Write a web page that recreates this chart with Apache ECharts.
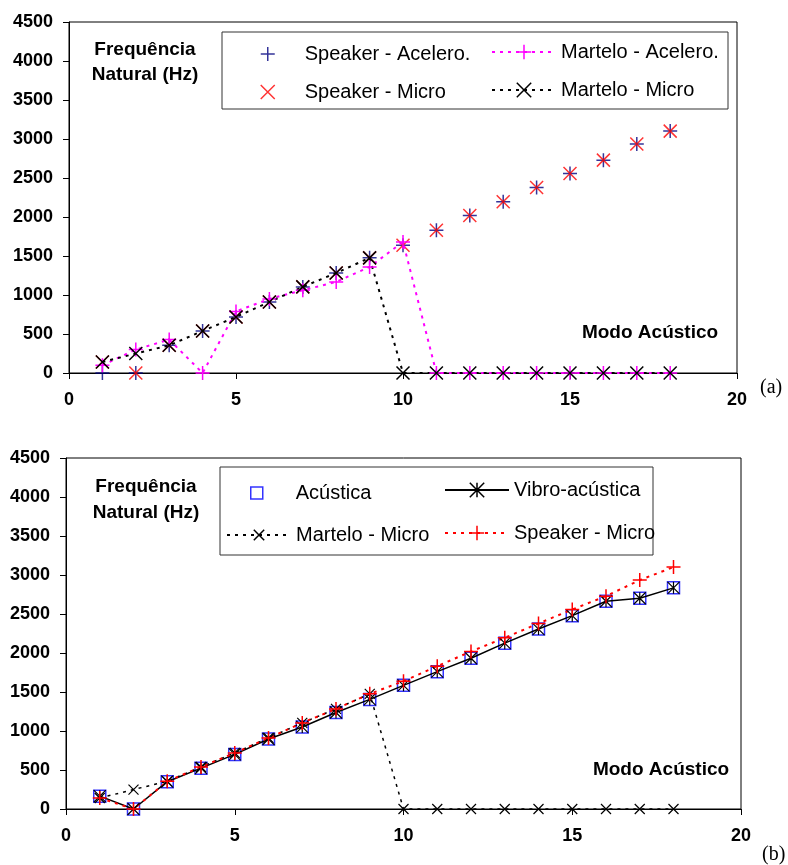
<!DOCTYPE html>
<html>
<head>
<meta charset="utf-8">
<script src="https://cdn.jsdelivr.net/npm/echarts@6/dist/echarts.min.js"></script>
<style>
html, body { margin: 0; padding: 0; background: #fff; }
#main { width: 788px; height: 865px; }
</style>
</head>
<body>
<div id="main"></div>
<script>
var modes = [1, 2, 3, 4, 5, 6, 7, 8, 9, 10, 11, 12, 13, 14, 15, 16, 17, 18];
var xTicks = [0, 5, 10, 15, 20];
var yTicks = [0, 500, 1000, 1500, 2000, 2500, 3000, 3500, 4000, 4500];

// grafico (a)
var speakerAcelA = [0, 0, 355, 539, 719, 911, 1104, 1283, 1476, 1639, 1831, 2020, 2195, 2379, 2558, 2729, 2935, 3101];
var speakerMicroA = [141, 0, 355, 539, 719, 911, 1104, 1283, 1476, 1639, 1831, 2020, 2195, 2379, 2558, 2729, 2935, 3101];
var marteloAcelA = [100, 300, 428, 0, 790, 950, 1061, 1168, 1360, 1681, 0, 0, 0, 0, 0, 0, 0, 0];
var marteloMicroA = [141, 249, 355, 539, 719, 911, 1104, 1283, 1476, 0, 0, 0, 0, 0, 0, 0, 0, 0];

// grafico (b)
var acustica = [165, 0, 350, 524, 700, 898, 1052, 1237, 1405, 1585, 1761, 1933, 2126, 2307, 2479, 2663, 2702, 2835];
var vibroAcustica = [165, 0, 350, 524, 700, 898, 1052, 1237, 1405, 1585, 1761, 1933, 2126, 2307, 2479, 2663, 2702, 2835];
var marteloMicroB = [141, 249, 355, 539, 719, 911, 1104, 1283, 1476, 0, 0, 0, 0, 0, 0, 0, 0, 0];
var speakerMicroB = [141, 0, 355, 539, 719, 911, 1104, 1283, 1476, 1639, 1831, 2020, 2195, 2379, 2558, 2729, 2935, 3101];

var PLUS = 'path://M0,5L10,5M5,0L5,10';
var CROSS = 'path://M0,0L10,10M10,0L0,10';
var STAR = 'path://M5,0L5,10M0,0L10,10M10,0L0,10';
var SQUARE = 'path://M0,0L10,0L10,10L0,10Z';

function pts(vals) {
    return modes.map(function (m, i) { return [m, vals[i]]; });
}

var FONT = 'Liberation Sans';

function xAx(idx) {
    return {
        type: 'value', gridIndex: idx,
        min: xTicks[0], max: xTicks[xTicks.length - 1], interval: xTicks[1] - xTicks[0],
        axisLine: {show: true, lineStyle: {color: '#000'}},
        axisTick: {show: true, length: 6, lineStyle: {color: '#000'}},
        splitLine: {show: false},
        axisLabel: {color: '#000', fontWeight: 'bold', fontSize: 18, fontFamily: FONT, margin: 18,
            formatter: function (v) { return String(v); }}
    };
}
function yAx(idx) {
    return {
        type: 'value', gridIndex: idx,
        min: yTicks[0], max: yTicks[yTicks.length - 1], interval: yTicks[1] - yTicks[0],
        axisLine: {show: true, lineStyle: {color: '#000'}},
        axisTick: {show: true, length: 6, lineStyle: {color: '#000'}},
        splitLine: {show: false},
        axisLabel: {color: '#000', fontWeight: 'bold', fontSize: 18, fontFamily: FONT, margin: 16,
            formatter: function (v) { return String(v); }}
    };
}

// padL: espaco extra entre o icone e o texto
function leg(name, left, top, w, h, padL) {
    return {
        data: [name], left: left, top: top, padding: 0,
        itemWidth: w, itemHeight: h, itemGap: 0,
        itemStyle: {borderWidth: 1.5},
        textStyle: {color: '#000', fontSize: 20, fontFamily: FONT, padding: [0, 0, 0, padL || 0]},
        formatter: function (n) { return n.replace(' (b)', ''); }
    };
}

var dom = document.getElementById('main');
var chart = echarts.init(dom);

var TXT = 'bold 19px "Liberation Sans"';

var option = {
    backgroundColor: '#fff',
    animation: false,
    grid: [
        {left: 69, top: 22, width: 668, height: 351, show: true, borderColor: '#000', borderWidth: 1},
        {left: 66, top: 458, width: 675, height: 351, show: true, borderColor: '#000', borderWidth: 1}
    ],
    xAxis: [xAx(0), xAx(1)],
    yAxis: [yAx(0), yAx(1)],
    legend: [
        leg('Speaker - Acelero.', 260, 44, 14, 14, 25),
        leg('Speaker - Micro', 260, 82, 14, 14, 25),
        leg('Martelo - Acelero.', 491, 42, 64, 18),
        leg('Martelo - Micro', 491, 80, 64, 18),
        leg('Acústica', 250, 483, 12, 12, 28),
        leg('Vibro-acústica', 444, 480, 64, 18),
        leg('Martelo - Micro (b)', 226, 525, 64, 13),
        leg('Speaker - Micro (b)', 444, 523, 64, 18)
    ],
    graphic: [
        {type: 'rect', shape: {x: 222, y: 32, width: 506, height: 77}, style: {fill: 'none', stroke: '#333', lineWidth: 1}},
        {type: 'rect', shape: {x: 220, y: 467, width: 433, height: 88}, style: {fill: 'none', stroke: '#333', lineWidth: 1}},
        {type: 'text', style: {text: 'Frequência', x: 145, y: 50, textAlign: 'center', textVerticalAlign: 'middle', font: TXT, fill: '#000'}},
        {type: 'text', style: {text: 'Natural (Hz)', x: 145, y: 75, textAlign: 'center', textVerticalAlign: 'middle', font: TXT, fill: '#000'}},
        {type: 'text', style: {text: 'Frequência', x: 146, y: 487, textAlign: 'center', textVerticalAlign: 'middle', font: TXT, fill: '#000'}},
        {type: 'text', style: {text: 'Natural (Hz)', x: 146, y: 513, textAlign: 'center', textVerticalAlign: 'middle', font: TXT, fill: '#000'}},
        {type: 'text', style: {text: 'Modo Acústico', x: 650, y: 333, textAlign: 'center', textVerticalAlign: 'middle', font: TXT, fill: '#000'}},
        {type: 'text', style: {text: 'Modo Acústico', x: 661, y: 770, textAlign: 'center', textVerticalAlign: 'middle', font: TXT, fill: '#000'}},
        {type: 'text', style: {text: '(a)', x: 760, y: 388, textAlign: 'left', textVerticalAlign: 'middle', font: '20px "Liberation Serif"', fill: '#000'}},
        {type: 'text', style: {text: '(b)', x: 762, y: 855, textAlign: 'left', textVerticalAlign: 'middle', font: '20px "Liberation Serif"', fill: '#000'}}
    ],
    series: [
        {
            name: 'Speaker - Acelero.', type: 'scatter', xAxisIndex: 0, yAxisIndex: 0,
            symbol: PLUS, symbolSize: 14,
            itemStyle: {color: '#000080', borderColor: '#000080', borderWidth: 1.5},
            data: pts(speakerAcelA)
        },
        {
            name: 'Speaker - Micro', type: 'scatter', xAxisIndex: 0, yAxisIndex: 0,
            symbol: CROSS, symbolSize: 13,
            itemStyle: {color: '#ff0000', borderColor: '#ff0000', borderWidth: 1.5},
            data: pts(speakerMicroA)
        },
        {
            name: 'Martelo - Acelero.', type: 'line', xAxisIndex: 0, yAxisIndex: 0,
            symbol: PLUS, symbolSize: 14,
            lineStyle: {color: '#ff00ff', width: 2, type: [3, 5]},
            itemStyle: {color: '#ff00ff', borderColor: '#ff00ff', borderWidth: 1.5},
            data: pts(marteloAcelA)
        },
        {
            name: 'Martelo - Micro', type: 'line', xAxisIndex: 0, yAxisIndex: 0,
            symbol: CROSS, symbolSize: 13,
            lineStyle: {color: '#000', width: 2, type: [3, 5]},
            itemStyle: {color: '#000', borderColor: '#000', borderWidth: 1.5},
            data: pts(marteloMicroA)
        },
        {
            name: 'Acústica', type: 'scatter', xAxisIndex: 1, yAxisIndex: 1,
            symbol: SQUARE, symbolSize: 12,
            itemStyle: {color: 'rgba(0,0,0,0)', borderColor: '#0000ff', borderWidth: 1.5},
            data: pts(acustica)
        },
        {
            name: 'Vibro-acústica', type: 'line', xAxisIndex: 1, yAxisIndex: 1,
            symbol: STAR, symbolSize: 12,
            lineStyle: {color: '#000', width: 1.5},
            itemStyle: {color: '#000', borderColor: '#000', borderWidth: 1.2},
            data: pts(vibroAcustica)
        },
        {
            name: 'Martelo - Micro (b)', type: 'line', xAxisIndex: 1, yAxisIndex: 1,
            symbol: CROSS, symbolSize: 10,
            lineStyle: {color: '#000', width: 1.5, type: [3, 5]},
            itemStyle: {color: '#000', borderColor: '#000', borderWidth: 1.2},
            data: pts(marteloMicroB)
        },
        {
            name: 'Speaker - Micro (b)', type: 'line', xAxisIndex: 1, yAxisIndex: 1,
            symbol: PLUS, symbolSize: 14,
            lineStyle: {color: '#ff0000', width: 2, type: [3, 5]},
            itemStyle: {color: '#ff0000', borderColor: '#ff0000', borderWidth: 1.5},
            data: pts(speakerMicroB)
        }
    ]
};

chart.setOption(option, true);
</script>
</body>
</html>
